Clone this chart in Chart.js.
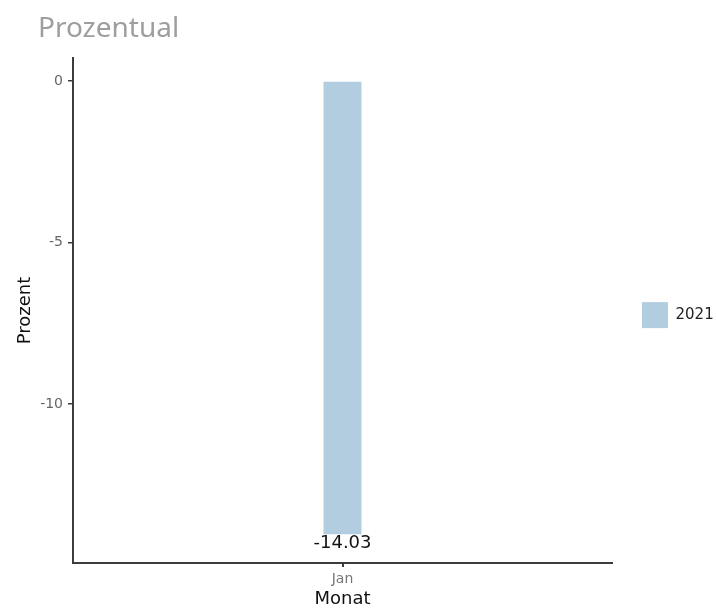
<!DOCTYPE html>
<html>
<head>
<meta charset="utf-8">
<script src="https://cdn.jsdelivr.net/npm/chart.js@4"></script>
<style>
  body { margin: 0; background: #fff; }
  #wrap { position: relative; width: 717px; height: 608px; }
  #title {
    position: absolute; left: 38px; top: 10px; margin: 0;
    font: normal 28px "Noto Sans", sans-serif; color: #9e9e9e; line-height: 1.2;
  }
</style>
</head>
<body>
<div id="wrap">
  <h1 id="title">Prozentual</h1>
  <canvas id="chart" width="717" height="608"></canvas>
</div>
<script>
// chart data
const months = ['Jan'];
const seriesLabel = '2021';
const values = [-14.03];
const yTicks = [0, -5, -10];

const barColor = 'rgb(179, 205, 224)';
const axisColor = '#3c3c3c';
const font = 'DejaVu Sans';

// draws the value under the end of each bar
const valueLabels = {
  id: 'valueLabels',
  afterDatasetsDraw(chart) {
    const ctx = chart.ctx;
    ctx.save();
    ctx.font = `18px "${font}"`;
    ctx.fillStyle = '#111';
    ctx.textAlign = 'center';
    ctx.textBaseline = 'top';
    chart.getDatasetMeta(0).data.forEach((bar, i) => {
      ctx.fillText(values[i].toFixed(2), bar.x, bar.y);
    });
    ctx.restore();
  }
};

new Chart(document.getElementById('chart'), {
  type: 'bar',
  data: {
    labels: months,
    datasets: [{
      label: seriesLabel,
      data: values,
      backgroundColor: barColor,
      borderWidth: 0,
      barPercentage: 0.0705,
      categoryPercentage: 1
    }]
  },
  options: {
    responsive: false,
    animation: false,
    layout: { padding: { top: 58, right: 0, bottom: 0, left: 0 } },
    plugins: {
      title: { display: false },
      tooltip: { enabled: false },
      legend: {
        position: 'right',
        fullSize: false,
        maxWidth: 105,
        // empty title only nudges the key down a little
        title: { display: true, text: ' ', font: { size: 1 }, padding: 4 },
        labels: {
          boxWidth: 26,
          boxHeight: 26,
          padding: 30,
          color: '#222',
          font: { family: font, size: 15 }
        }
      }
    },
    scales: {
      x: {
        grid: { offset: false, drawOnChartArea: false, drawTicks: true, tickLength: 4, lineWidth: 2, color: axisColor },
        border: { display: true, color: axisColor, width: 2 },
        ticks: { color: '#777', padding: 4, font: { family: font, size: 14 } },
        title: { display: true, text: 'Monat', color: '#111', padding: 0, font: { family: font, size: 18, lineHeight: 1 } },
        afterFit: (s) => { s.height = 45; }
      },
      y: {
        min: -14.92,
        max: 0.71,
        afterBuildTicks: (s) => { s.ticks = yTicks.map((v) => ({ value: v })); },
        grid: { drawOnChartArea: false, drawTicks: true, tickLength: 5, lineWidth: 1.5, color: axisColor },
        border: { display: true, color: axisColor, width: 2 },
        ticks: { color: '#666', padding: 5, font: { family: font, size: 14 } },
        title: { display: true, text: 'Prozent', color: '#111', padding: { top: 16, bottom: 0 }, font: { family: font, size: 18, lineHeight: 1 } },
        afterFit: (s) => { s.width = 73; }
      }
    }
  },
  plugins: [valueLabels]
});
</script>
</body>
</html>
